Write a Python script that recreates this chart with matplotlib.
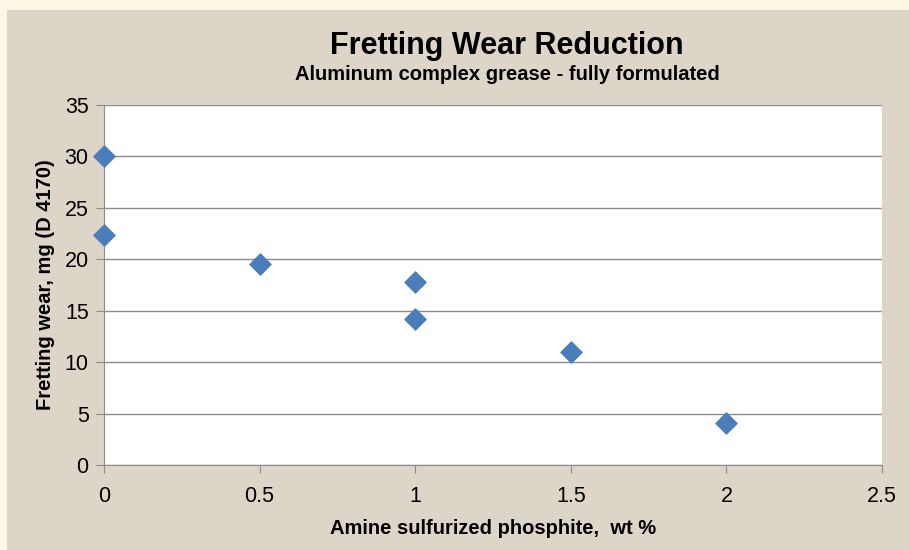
import matplotlib
matplotlib.use("Agg")
import matplotlib.pyplot as plt
from matplotlib.patches import Rectangle

# data
amine_wt = [0, 0, 0.5, 1, 1, 1.5, 2]
wear_mg = [30, 22.4, 19.5, 17.8, 14.2, 11.0, 4.1]

x_ticks = [0, 0.5, 1, 1.5, 2, 2.5]
x_tick_labels = ["0", "0.5", "1", "1.5", "2", "2.5"]
y_ticks = [0, 5, 10, 15, 20, 25, 30, 35]

plt.rcParams['font.family'] = ['Liberation Sans', 'DejaVu Sans']

fig = plt.figure(figsize=(9.09, 5.5), dpi=100)
fig.patch.set_facecolor("#fdf6e4")

# beige panel behind the chart
fig.patches.append(Rectangle((7 / 909, 0), 1 - 7 / 909, 1 - 10 / 550,
                             transform=fig.transFigure, facecolor="#dcd5c8",
                             edgecolor="none", zorder=-10))

ax = fig.add_axes([104 / 909, 85 / 550, (882 - 104) / 909, (465 - 105) / 550])
ax.set_facecolor("white")

ax.scatter(amine_wt, wear_mg, marker="D", s=115, color="#4a7ebb",
           edgecolor="#4a7ebb", zorder=3, clip_on=False)

ax.set_xlim(0, 2.5)
ax.set_ylim(0, 35)
ax.set_xticks(x_ticks)
ax.set_xticklabels(x_tick_labels)
ax.set_yticks(y_ticks)
ax.grid(axis="y", color="#8c8c8c", linewidth=1)
ax.set_axisbelow(True)

for side in ["top", "right"]:
    ax.spines[side].set_visible(False)
for side in ["left", "bottom"]:
    ax.spines[side].set_color("#8c8c8c")
ax.tick_params(axis="both", colors="#8c8c8c", labelcolor="black",
               labelsize=15.5, length=6, direction="out")
ax.tick_params(axis="x", pad=9)
ax.tick_params(axis="y", pad=5)

ax.set_xlabel("Amine sulfurized phosphite,  wt %", fontsize=14.5,
              fontweight="bold", labelpad=9)
ax.set_ylabel("Fretting wear, mg (D 4170)", fontsize=14.5,
              fontweight="bold", labelpad=7)

fig.text(507 / 909, 1 - 46 / 550, "Fretting Wear Reduction", ha="center",
         va="center", fontsize=22, fontweight="bold")
fig.text(507 / 909, 1 - 75 / 550, "Aluminum complex grease - fully formulated",
         ha="center", va="center", fontsize=14.5, fontweight="bold")

fig.savefig("out.png", dpi=100, facecolor=fig.get_facecolor())
